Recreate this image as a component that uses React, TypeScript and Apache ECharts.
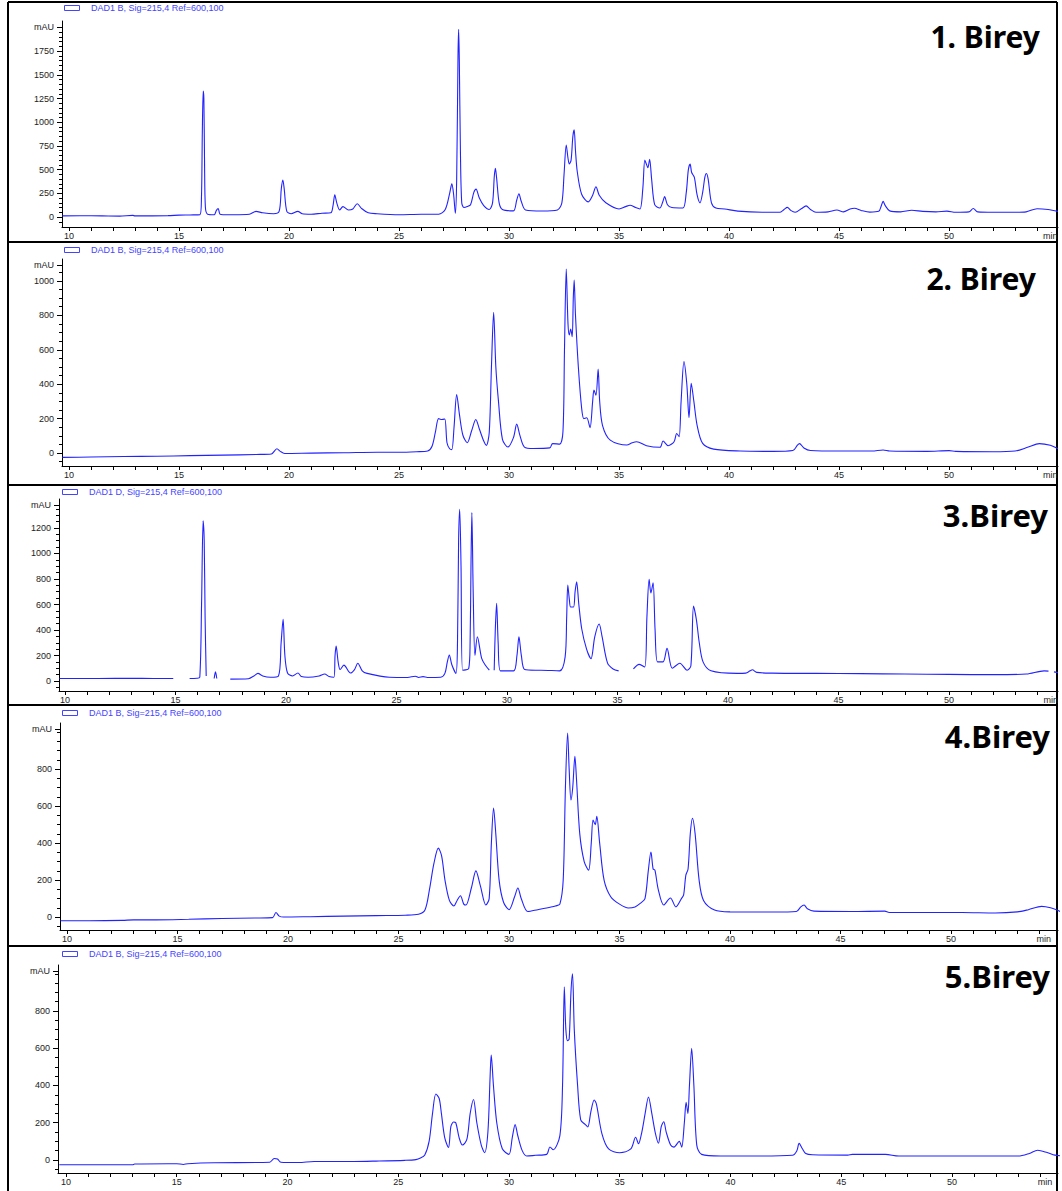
import React, { useEffect, useRef } from "react";
import * as echarts from "echarts";

// ---------- DATA (retention time [min], absorbance [mAU]) ----------
const xLabelValues = [10, 15, 20, 25, 30, 35, 40, 45, 50];
const yLabels1 = [0, 250, 500, 750, 1000, 1250, 1500, 1750];
const yLabels2 = [0, 200, 400, 600, 800, 1000];
const yLabels3 = [0, 200, 400, 600, 800, 1000, 1200];
const yLabels4 = [0, 200, 400, 600, 800];
const yLabels5 = [0, 200, 400, 600, 800];

const titles = ["1. Birey", "2. Birey", "3.Birey", "4.Birey", "5.Birey"];
const legendTexts = [
  "DAD1 B, Sig=215,4 Ref=600,100",
  "DAD1 B, Sig=215,4 Ref=600,100",
  "DAD1 D, Sig=215,4 Ref=600,100",
  "DAD1 B, Sig=215,4 Ref=600,100",
  "DAD1 B, Sig=215,4 Ref=600,100",
];

const birey1: [number, number][] = [
  [9.7, 12], [10.5, 14], [11.5, 12], [12.3, 10], [12.9, 18], [13.0, 12], [14.5, 15], [15.0, 20], [15.5, 22],
  [15.95, 25], [16.02, 200], [16.06, 900], [16.1, 1330], [16.13, 1250], [16.16, 600], [16.2, 100], [16.3, 30],
  [16.6, 25], [16.7, 70], [16.78, 90], [16.86, 30], [17.0, 25], [17.5, 25], [18.2, 30], [18.5, 60], [18.8, 45],
  [19.3, 35], [19.55, 60], [19.65, 300], [19.72, 390], [19.78, 300], [19.9, 60], [20.1, 35], [20.4, 60], [20.6, 35],
  [21.0, 30], [21.5, 40], [21.9, 45], [22.0, 120], [22.08, 235], [22.17, 150], [22.3, 75], [22.45, 110], [22.7, 75],
  [22.9, 85], [23.1, 140], [23.3, 90], [23.6, 45], [24.0, 35], [25.0, 25], [26.0, 30], [26.8, 30], [27.1, 80],
  [27.3, 250], [27.4, 350], [27.48, 240], [27.56, 40], [27.62, 400], [27.68, 1700], [27.71, 1980], [27.74, 1650],
  [27.79, 700], [27.85, 150], [27.95, 100], [28.1, 110], [28.25, 130], [28.4, 260], [28.5, 295], [28.65, 200],
  [28.85, 120], [29.1, 80], [29.25, 150], [29.33, 430], [29.38, 515], [29.44, 400], [29.55, 150], [29.7, 80],
  [30.2, 65], [30.35, 180], [30.45, 245], [30.55, 170], [30.75, 75], [31.5, 63], [32.2, 75], [32.4, 150],
  [32.5, 450], [32.6, 760], [32.68, 620], [32.74, 560], [32.82, 600], [32.9, 850], [32.96, 920], [33.02, 700],
  [33.1, 480], [33.3, 240], [33.6, 160], [33.8, 230], [33.95, 320], [34.1, 230], [34.4, 150], [35.0, 85],
  [35.3, 110], [35.5, 125], [35.75, 100], [35.95, 85], [36.08, 300], [36.17, 600], [36.24, 560], [36.31, 520],
  [36.39, 610], [36.48, 400], [36.62, 130], [36.85, 95], [37.0, 170], [37.07, 215], [37.2, 130], [37.4, 100],
  [37.9, 95], [38.05, 250], [38.15, 500], [38.23, 560], [38.3, 470], [38.42, 420], [38.55, 230], [38.68, 150],
  [38.8, 260], [38.9, 420], [38.97, 460], [39.05, 400], [39.2, 150], [39.4, 95], [39.8, 85], [40.4, 62],
  [41.5, 50], [42.3, 50], [42.5, 80], [42.65, 102], [42.8, 70], [43.0, 50], [43.3, 90], [43.5, 118], [43.7, 80],
  [43.95, 50], [44.5, 55], [44.9, 75], [45.2, 55], [45.5, 85], [45.7, 92], [46.0, 70], [46.4, 52], [46.8, 60],
  [46.92, 120], [47.0, 165], [47.1, 120], [47.3, 65], [47.8, 55], [48.3, 72], [48.8, 60], [49.4, 55], [49.9, 62],
  [50.3, 50], [50.9, 55], [51.1, 90], [51.3, 55], [52.0, 50], [53.0, 50], [53.5, 55], [54.0, 88], [54.5, 80],
  [54.95, 60],
];

const birey2: [number, number][] = [
  [9.7, -25], [11.0, -23], [12.5, -20], [14.0, -18], [15.5, -15], [17.0, -12], [18.5, -8], [19.2, -5],
  [19.45, 25], [19.6, 10], [19.8, -2], [21.0, 0], [22.5, 2], [24.0, 5], [25.0, 5], [25.8, 8], [26.3, 12],
  [26.5, 40], [26.65, 120], [26.8, 200], [26.95, 195], [27.08, 198], [27.18, 60], [27.3, 25], [27.4, 20],
  [27.5, 150], [27.62, 340], [27.75, 220], [27.9, 105], [28.1, 60], [28.3, 130], [28.49, 195], [28.65, 140],
  [28.85, 70], [28.97, 45], [29.1, 120], [29.2, 500], [29.3, 817], [29.4, 500], [29.52, 300], [29.7, 80],
  [29.95, 35], [30.2, 90], [30.35, 168], [30.5, 100], [30.7, 35], [31.1, 27], [31.85, 30], [31.98, 55],
  [32.3, 52], [32.45, 124], [32.52, 600], [32.6, 1069], [32.68, 750], [32.74, 686], [32.8, 720], [32.87, 676],
  [32.92, 900], [32.96, 1005], [33.02, 800], [33.15, 500], [33.3, 260], [33.4, 200], [33.53, 205], [33.68, 147],
  [33.8, 300], [33.86, 366], [33.95, 336], [34.05, 488], [34.12, 300], [34.25, 160], [34.6, 75], [35.35, 47],
  [35.6, 60], [35.8, 66], [36.25, 43], [36.86, 34], [37.0, 70], [37.23, 43], [37.5, 66], [37.62, 114],
  [37.73, 95], [37.82, 300], [37.95, 531], [38.08, 400], [38.18, 205], [38.28, 405], [38.4, 300], [38.55, 160],
  [38.8, 56], [39.3, 23], [40.5, 12], [42.0, 10], [42.9, 15], [43.1, 45], [43.2, 55], [43.4, 30], [43.7, 15],
  [45.0, 12], [46.5, 12], [47.0, 18], [47.3, 12], [49.0, 10], [50.0, 14], [50.3, 10], [52.0, 8], [53.0, 12],
  [53.6, 35], [54.1, 55], [54.6, 45], [54.95, 25],
];

// panel 3 has breaks in its trace: one array per unbroken segment
const birey3a: [number, number][] = [
  [9.75, 20], [11.5, 20], [13.0, 22], [14.0, 20], [14.9, 20],
];
const birey3b: [number, number][] = [
  [15.64, 20], [15.97, 22], [16.1, 30], [16.18, 600], [16.25, 1257], [16.3, 1100], [16.34, 500], [16.39, 40],
];
const birey3c: [number, number][] = [[16.75, 20], [16.81, 73], [16.87, 20]];
const birey3d: [number, number][] = [
  [17.48, 15], [18.3, 18], [18.55, 40], [18.73, 60], [18.95, 40], [19.3, 30], [19.66, 40], [19.78, 300],
  [19.87, 484], [19.95, 200], [20.07, 63], [20.3, 40], [20.54, 63], [20.7, 35], [21.0, 30], [21.5, 40],
  [21.75, 55], [21.95, 35], [22.17, 30], [22.22, 200], [22.27, 274], [22.36, 150], [22.45, 90], [22.62, 125],
  [22.92, 63], [23.1, 90], [23.25, 139], [23.45, 80], [23.67, 60], [24.68, 30], [25.5, 28], [25.85, 38],
  [26.0, 28], [26.2, 35], [26.4, 28], [27.0, 30], [27.19, 60], [27.3, 150], [27.39, 204], [27.5, 130],
  [27.69, 60], [27.76, 300], [27.81, 1100], [27.86, 1346], [27.92, 900], [27.99, 85], [28.27, 100], [28.33, 300],
  [28.37, 900], [28.41, 1320], [28.47, 700], [28.55, 200], [28.66, 347], [28.85, 180], [29.0, 130], [29.2, 85],
];
const birey3e: [number, number][] = [
  [29.42, 85], [29.47, 400], [29.53, 609], [29.6, 300], [29.7, 80], [30.3, 80], [30.45, 200], [30.54, 347],
  [30.65, 200], [30.8, 90], [31.3, 85], [31.54, 85], [32.38, 80], [32.63, 190], [32.7, 500], [32.75, 753],
  [32.82, 640], [32.88, 580], [33.01, 580], [33.08, 700], [33.15, 778], [33.25, 600], [33.38, 410], [33.6, 250],
  [33.8, 175], [33.97, 347], [34.17, 447], [34.3, 350], [34.55, 140], [34.8, 95], [35.05, 80],
];
const birey3f: [number, number][] = [
  [35.72, 95], [35.98, 131], [36.23, 110], [36.33, 500], [36.43, 797], [36.51, 690], [36.61, 770], [36.7, 400],
  [36.81, 150], [37.06, 150], [37.24, 256], [37.48, 100], [37.82, 140], [38.15, 85], [38.32, 120], [38.44, 588],
  [38.57, 480], [38.7, 300], [38.87, 150], [39.23, 80], [40.41, 60], [40.8, 62], [41.0, 80], [41.1, 88],
  [41.3, 68], [42.0, 62], [44.0, 60], [46.0, 58], [48.0, 55], [50.0, 52], [52.0, 50], [53.5, 55], [54.3, 80],
  [54.5, 78],
];
const birey3g: [number, number][] = [[54.75, 72], [54.93, 66]];

const birey4: [number, number][] = [
  [9.7, -20], [11.0, -20], [12.5, -18], [13.0, -15], [14.0, -15], [15.5, -12], [17.0, -8], [18.5, -5],
  [19.3, -3], [19.45, 25], [19.6, 5], [19.8, 0], [21.0, 2], [22.5, 5], [24.0, 8], [25.3, 10], [25.9, 15],
  [26.2, 40], [26.4, 150], [26.6, 290], [26.8, 373], [26.95, 330], [27.1, 200], [27.3, 90], [27.5, 60],
  [27.65, 90], [27.8, 115], [27.95, 70], [28.05, 65], [28.3, 160], [28.5, 250], [28.7, 170], [28.95, 65],
  [29.1, 100], [29.2, 400], [29.3, 590], [29.4, 450], [29.55, 200], [29.75, 80], [30.0, 40], [30.25, 110],
  [30.4, 157], [30.55, 100], [30.85, 30], [31.3, 40], [31.9, 54], [32.1, 60], [32.3, 70], [32.45, 200],
  [32.55, 700], [32.65, 995], [32.72, 800], [32.8, 633], [32.88, 700], [32.98, 870], [33.05, 750], [33.2, 450],
  [33.4, 300], [33.6, 254], [33.72, 400], [33.8, 525], [33.9, 500], [33.97, 545], [34.1, 400], [34.3, 200],
  [34.6, 110], [35.0, 70], [35.4, 49], [35.7, 55], [35.95, 75], [36.15, 100], [36.3, 250], [36.42, 352],
  [36.52, 260], [36.6, 254], [36.75, 150], [37.0, 65], [37.3, 103], [37.55, 55], [37.8, 100], [37.9, 120],
  [38.0, 227], [38.1, 260], [38.2, 450], [38.3, 535], [38.42, 450], [38.6, 200], [38.8, 90], [39.3, 38],
  [40.0, 28], [42.0, 27], [43.0, 30], [43.2, 55], [43.35, 65], [43.5, 45], [43.8, 32], [45.5, 30], [47.0, 32],
  [47.2, 25], [49.0, 25], [50.5, 25], [52.0, 22], [53.0, 28], [53.5, 40], [54.1, 58], [54.5, 50], [54.95, 30],
];

const birey5: [number, number][] = [
  [9.7, -26], [11.0, -26], [13.0, -26], [13.1, -22], [14.6, -20], [15.0, -20], [15.3, -24], [15.5, -20],
  [16.7, -15], [19.2, -12], [19.4, 8], [19.55, 5], [19.7, -12], [20.5, -14], [21.2, -8], [23.0, -8], [24.0, -6],
  [25.3, -2], [25.8, 2], [26.0, 10], [26.2, 27], [26.4, 103], [26.55, 250], [26.7, 354], [26.85, 330],
  [26.95, 250], [27.1, 120], [27.27, 67], [27.38, 180], [27.5, 204], [27.6, 200], [27.75, 120], [27.9, 80],
  [28.1, 110], [28.25, 250], [28.4, 325], [28.55, 200], [28.75, 80], [28.9, 39], [29.05, 150], [29.15, 450],
  [29.2, 564], [29.3, 400], [29.45, 200], [29.7, 60], [30.0, 30], [30.15, 120], [30.28, 190], [30.4, 130],
  [30.6, 50], [30.8, 21], [31.2, 25], [31.7, 30], [31.85, 70], [32.0, 55], [32.3, 131], [32.42, 400],
  [32.5, 930], [32.57, 700], [32.65, 640], [32.72, 650], [32.8, 900], [32.87, 1000], [32.95, 700], [33.1, 400],
  [33.24, 215], [33.45, 190], [33.56, 177], [33.7, 260], [33.85, 322], [33.95, 300], [34.2, 140], [34.5, 59],
  [35.0, 39], [35.5, 59], [35.72, 122], [35.85, 87], [36.0, 150], [36.15, 250], [36.3, 338], [36.45, 250],
  [36.6, 150], [36.75, 90], [36.88, 180], [36.99, 205], [37.1, 150], [37.3, 80], [37.45, 69], [37.69, 100],
  [37.8, 69], [37.92, 200], [38.0, 310], [38.08, 250], [38.15, 400], [38.25, 600], [38.35, 400], [38.48, 80],
  [38.7, 30], [39.55, 21], [41.0, 21], [42.8, 25], [43.0, 50], [43.1, 89], [43.25, 60], [43.4, 35], [43.7, 28],
  [45.3, 26], [45.5, 30], [46.7, 30], [47.0, 30], [47.6, 21], [50.0, 21], [53.0, 21], [53.5, 35], [53.87, 52],
  [54.3, 40], [54.65, 26], [54.95, 22],
];

const panelSeries: [number, number][][][] = [
  [birey1],
  [birey2],
  [birey3a, birey3b, birey3c, birey3d, birey3e, birey3f, birey3g],
  [birey4],
  [birey5],
];
const panelYLabels = [yLabels1, yLabels2, yLabels3, yLabels4, yLabels5];

// ---------- LAYOUT ----------
const W = 1062;
const H = 1191;
const layout = [
  { left: 62, top: 21, height: 206, xMin: 9.682, xMax: 54.95, yMin: -105, yMax: 2068, mau: 2000, minPos: 54.6,
    legendX: 64, legendY: 5, titleX: 1040, titleY: 36, titleSize: 30 },
  { left: 62, top: 259, height: 207, xMin: 9.682, xMax: 54.95, yMin: -75, yMax: 1127, mau: 1090, minPos: 54.6,
    legendX: 64, legendY: 247, titleX: 1036, titleY: 278, titleSize: 30 },
  { left: 59, top: 499, height: 192, xMin: 9.73, xMax: 54.93, yMin: -78, yMax: 1427, mau: 1380, minPos: 54.6,
    legendX: 62, legendY: 489, titleX: 1048, titleY: 515, titleSize: 31 },
  { left: 60, top: 723, height: 207, xMin: 9.68, xMax: 54.84, yMin: -70, yMax: 1050, mau: 1017, minPos: 54.2,
    legendX: 62, legendY: 710, titleX: 1050, titleY: 736, titleSize: 31 },
  { left: 58, top: 965, height: 208, xMin: 9.64, xMax: 54.79, yMin: -70, yMax: 1047, mau: 1015, minPos: 54.2,
    legendX: 62, legendY: 951, titleX: 1050, titleY: 976, titleSize: 31 },
];
const RIGHT_EDGE = 1058;
const separators = [242, 485, 705, 946];

const TRACE = "#2222ff";
const LEGEND_BLUE = "#4444ff";
const AXIS_FONT = "Liberation Sans";

function buildOption() {
  const grid: any[] = [];
  const xAxis: any[] = [];
  const yAxis: any[] = [];
  const series: any[] = [];
  const graphic: any[] = [];

  layout.forEach((L, i) => {
    grid.push({ left: L.left, top: L.top, width: RIGHT_EDGE - L.left, height: L.height, containLabel: false });

    const xTicks: number[] = [];
    for (let t = Math.ceil(L.xMin); t <= L.xMax; t++) xTicks.push(t);
    const minPos = L.minPos;
    xAxis.push({
      gridIndex: i,
      type: "value",
      min: L.xMin,
      max: L.xMax,
      axisLine: { show: true, onZero: false, lineStyle: { color: "#000", width: 1 } },
      axisTick: { show: true, customValues: xTicks, length: 4, lineStyle: { color: "#000", width: 1 } },
      axisLabel: {
        customValues: [...xLabelValues, minPos],
        formatter: (v: number) => (v > 52 ? "min" : String(v)),
        fontSize: 9,
        fontFamily: AXIS_FONT,
        color: "#222",
        margin: 4,
      },
      splitLine: { show: false },
    });

    const labels = panelYLabels[i];
    const mau = L.mau;
    yAxis.push({
      gridIndex: i,
      type: "value",
      position: "left",
      min: L.yMin,
      max: L.yMax,
      axisLine: { show: true, onZero: false, lineStyle: { color: "#000", width: 1 } },
      axisTick: { show: true, customValues: [...labels, mau], length: 5, lineStyle: { color: "#000" } },
      axisLabel: {
        customValues: [...labels, mau],
        formatter: (v: number) => (v === mau ? "mAU" : String(v)),
        fontSize: 9,
        fontFamily: AXIS_FONT,
        color: "#222",
        margin: 8,
      },
      splitLine: { show: false },
    });
    const minor: number[] = [];
    for (let v = -50; v <= mau; v += 50) if (v >= L.yMin) minor.push(v);
    yAxis.push({
      gridIndex: i,
      type: "value",
      position: "left",
      offset: 0,
      min: L.yMin,
      max: L.yMax,
      axisLine: { show: false },
      axisTick: { show: true, customValues: minor, length: 3, lineStyle: { color: "#000" } },
      axisLabel: { show: false },
      splitLine: { show: false },
    });

    panelSeries[i].forEach((seg) => {
      series.push({
        type: "line",
        xAxisIndex: i,
        yAxisIndex: 2 * i,
        data: seg,
        showSymbol: false,
        symbol: "none",
        silent: true,
        clip: true,
        smooth: 0.3,
        lineStyle: { color: TRACE, width: 1.1 },
      });
    });

    // legend box + text
    graphic.push({
      type: "rect",
      shape: { x: L.legendX + 0.5, y: L.legendY + 0.5, width: 15, height: 5 },
      style: { fill: "none", stroke: LEGEND_BLUE, lineWidth: 1 },
      silent: true,
    });
    graphic.push({
      type: "text",
      x: L.legendX + 27,
      y: L.legendY + 3,
      style: {
        text: legendTexts[i],
        fill: LEGEND_BLUE,
        font: `9px "${AXIS_FONT}"`,
        textAlign: "left",
        align: "left",
        textVerticalAlign: "middle",
        verticalAlign: "middle",
      },
      silent: true,
    });
    // title
    graphic.push({
      type: "text",
      x: L.titleX,
      y: L.titleY,
      style: {
        text: titles[i],
        fill: "#000",
        font: `bold ${L.titleSize}px "Noto Sans"`,
        textAlign: "right",
        align: "right",
        textVerticalAlign: "middle",
        verticalAlign: "middle",
      },
      silent: true,
    });
  });

  // frame and separators
  graphic.push({ type: "line", shape: { x1: 8, y1: 2, x2: 8, y2: H }, style: { stroke: "#000", lineWidth: 2 }, silent: true });
  graphic.push({ type: "line", shape: { x1: 8, y1: 2, x2: 1057, y2: 2 }, style: { stroke: "#000", lineWidth: 2 }, silent: true });
  graphic.push({ type: "line", shape: { x1: 1057, y1: 2, x2: 1057, y2: H }, style: { stroke: "#000", lineWidth: 2 }, silent: true });
  separators.forEach((y) => {
    graphic.push({ type: "line", shape: { x1: 8, y1: y, x2: 1057, y2: y }, style: { stroke: "#000", lineWidth: 2 }, silent: true });
  });

  return {
    animation: false,
    backgroundColor: "#fff",
    grid,
    xAxis,
    yAxis,
    series,
    graphic,
  };
}

export default function App() {
  const ref = useRef<HTMLDivElement>(null);
  useEffect(() => {
    document.body.style.margin = "0";
    if (!ref.current) return;
    const chart = echarts.init(ref.current, undefined, { renderer: "svg" });
    chart.setOption(buildOption() as any);
    return () => chart.dispose();
  }, []);
  return (
    <div
      ref={ref}
      style={{ position: "absolute", left: 0, top: 0, width: W, height: H, background: "#fff" }}
    />
  );
}
